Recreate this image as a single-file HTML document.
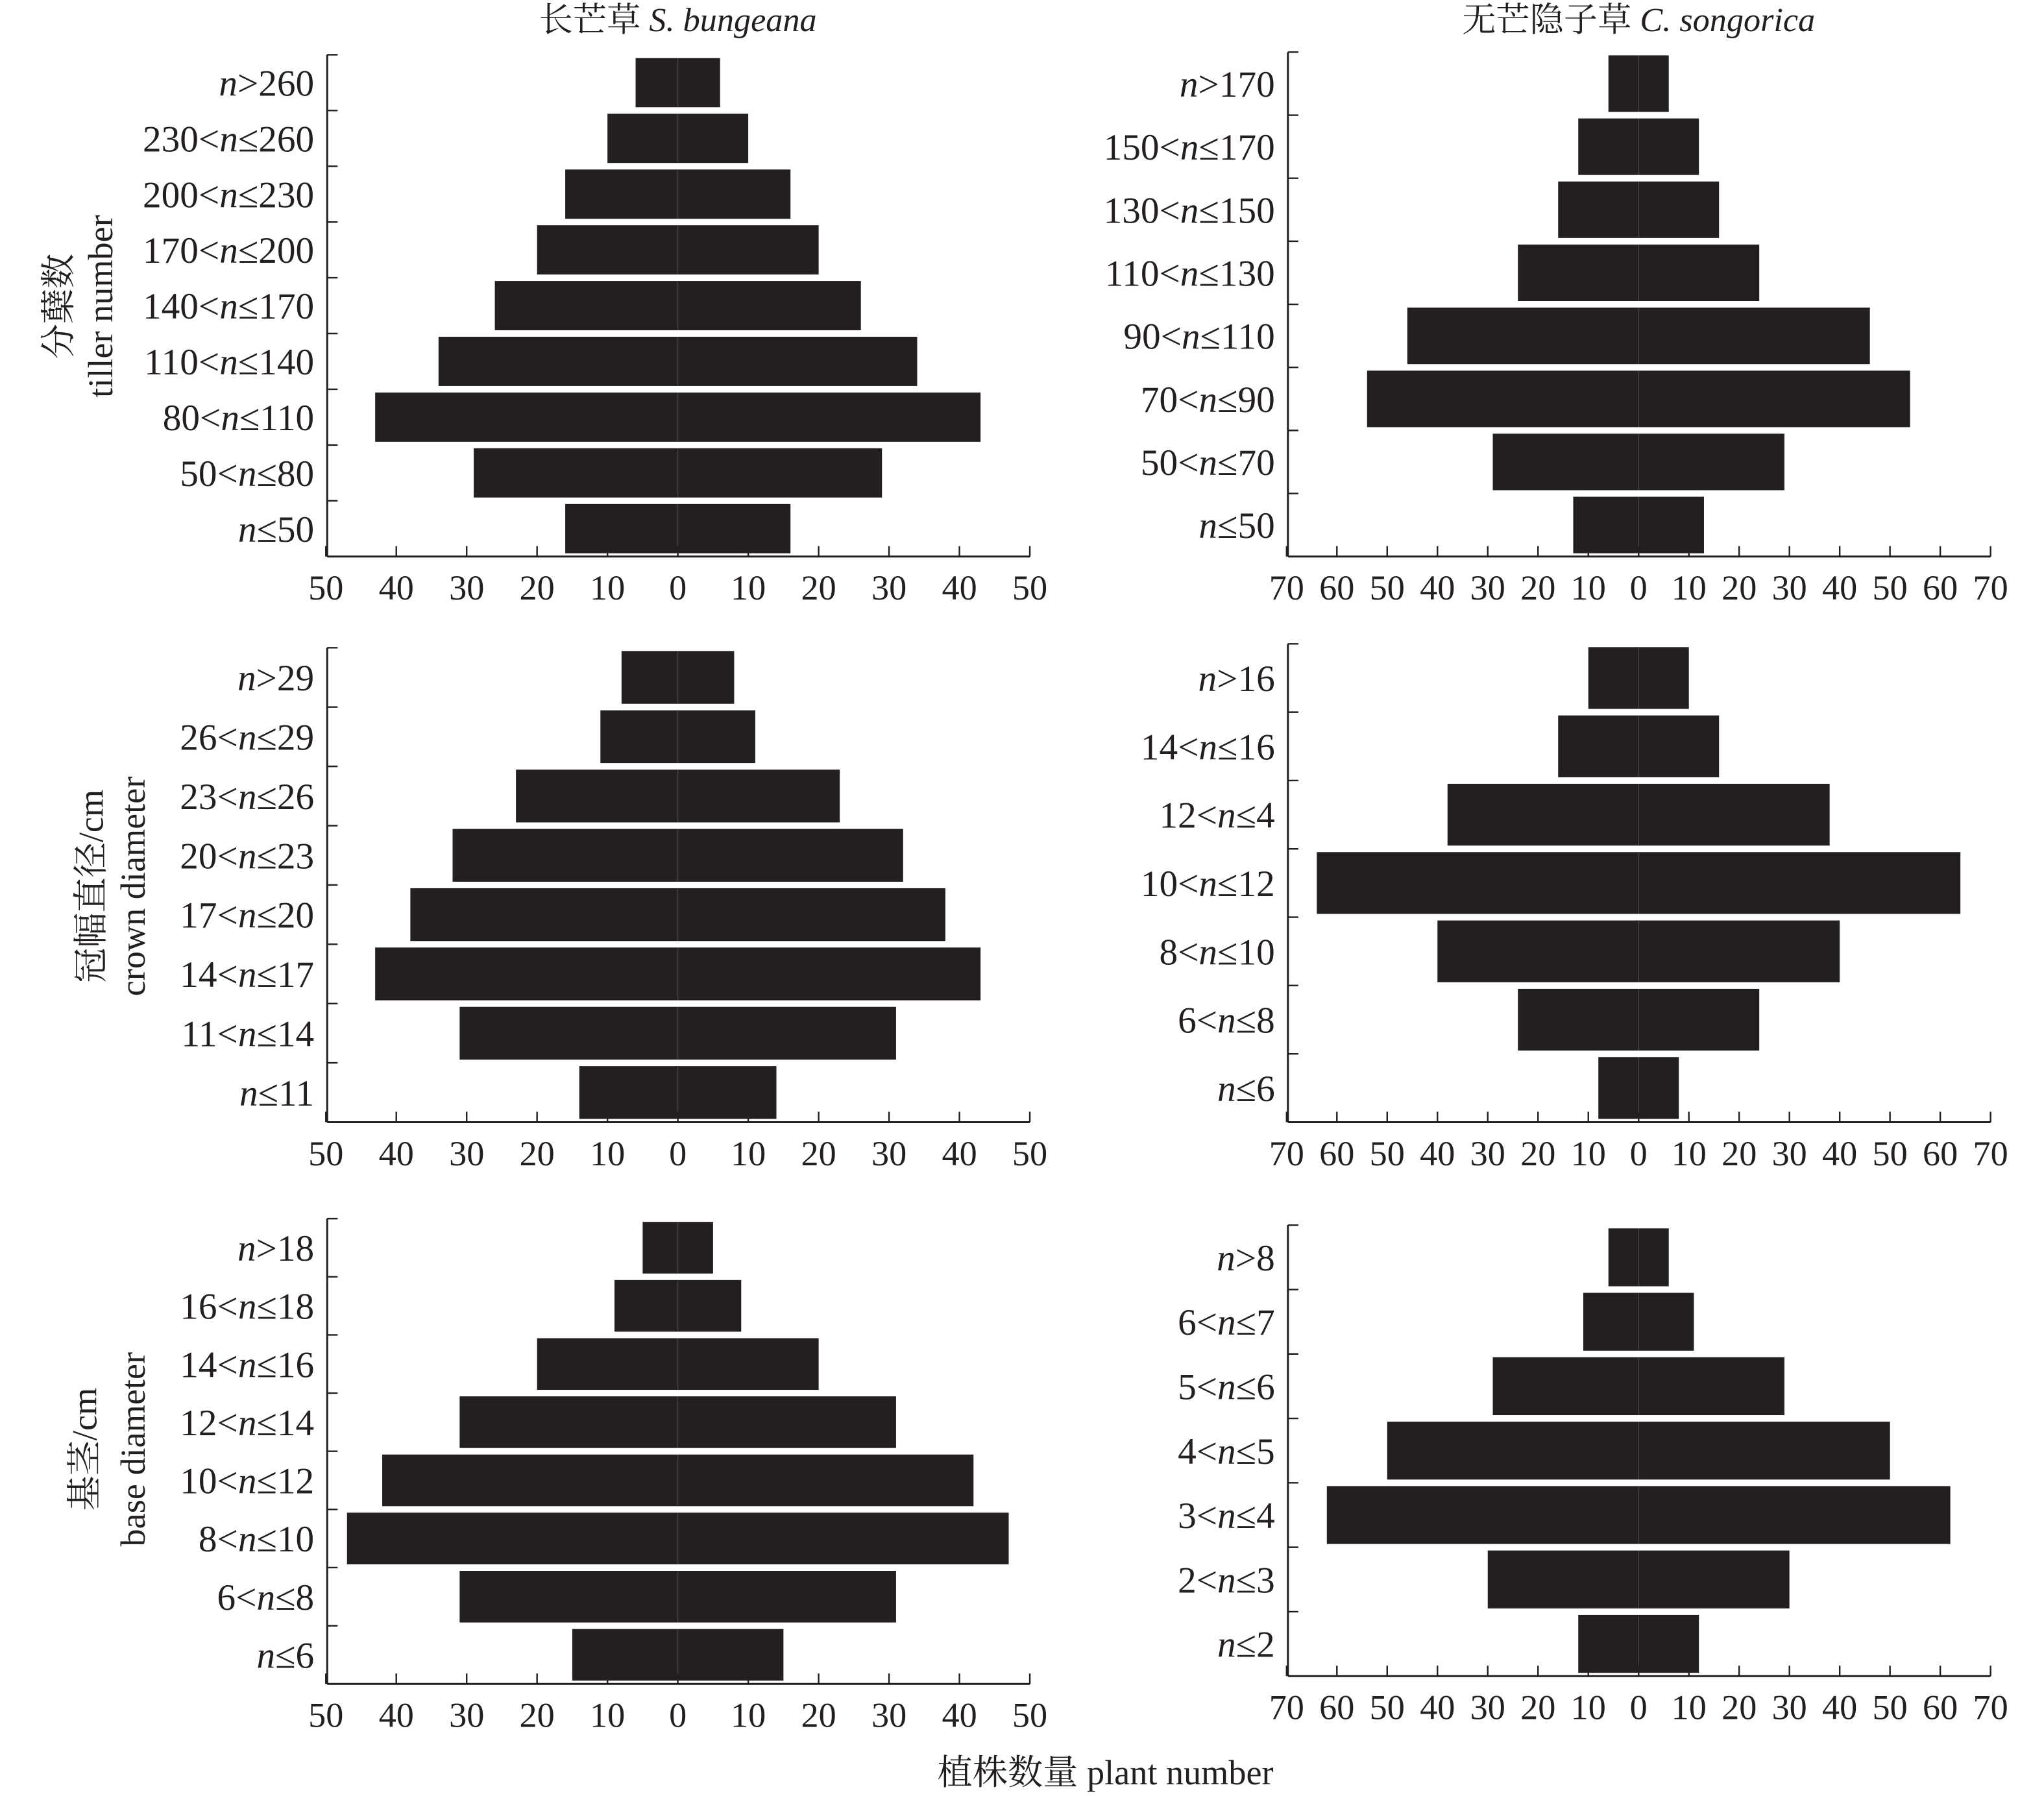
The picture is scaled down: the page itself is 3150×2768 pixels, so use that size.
<!DOCTYPE html>
<html><head><meta charset="utf-8"><style>
html,body{margin:0;padding:0;background:#fff}
svg{display:block}
text{font-family:"Liberation Serif","Noto Serif CJK SC",serif;fill:#231f20}
</style></head><body>
<svg id="s" width="3150" height="2768" viewBox="0 0 1568 1378" preserveAspectRatio="none" xmlns="http://www.w3.org/2000/svg">
<text x="520" y="24" font-size="26" text-anchor="middle">长芒草 <tspan font-style="italic">S. bungeana</tspan></text>
<text x="1257" y="24" font-size="26" text-anchor="middle">无芒隐子草 <tspan font-style="italic">C. songorica</tspan></text>
<text x="848" y="1369" font-size="27" text-anchor="middle">植株数量 plant number</text>
<text transform="translate(54,235) rotate(-90)" font-size="27" text-anchor="middle">分蘖数</text>
<text transform="translate(86,235) rotate(-90)" font-size="27" text-anchor="middle">tiller number</text>
<text transform="translate(79,680) rotate(-90)" font-size="27" text-anchor="middle">冠幅直径/cm</text>
<text transform="translate(111,680) rotate(-90)" font-size="27" text-anchor="middle">crown diameter</text>
<text transform="translate(74,1112) rotate(-90)" font-size="27" text-anchor="middle">基茎/cm</text>
<text transform="translate(111,1112) rotate(-90)" font-size="27" text-anchor="middle">base diameter</text>
</svg>
<script>
var NS="http://www.w3.org/2000/svg",S=document.getElementById("s");
function el(t,a,txt){var e=document.createElementNS(NS,t);for(var k in a)e.setAttribute(k,a[k]);if(txt!=null)e.textContent=txt;S.appendChild(e);return e;}
var P=[
{x0:251,x1:790,z:520,m:50,t:42,b:427,c:[["","n",">260",6],["230<","n","≤260",10],["200<","n","≤230",16],["170<","n","≤200",20],["140<","n","≤170",26],["110<","n","≤140",34],["80<","n","≤110",43],["50<","n","≤80",29],["","n","≤50",16]]},
{x0:988,x1:1527,z:1257,m:70,t:40,b:427,c:[["","n",">170",6],["150<","n","≤170",12],["130<","n","≤150",16],["110<","n","≤130",24],["90<","n","≤110",46],["70<","n","≤90",54],["50<","n","≤70",29],["","n","≤50",13]]},
{x0:251,x1:790,z:520,m:50,t:497,b:861,c:[["","n",">29",8],["26<","n","≤29",11],["23<","n","≤26",23],["20<","n","≤23",32],["17<","n","≤20",38],["14<","n","≤17",43],["11<","n","≤14",31],["","n","≤11",14]]},
{x0:988,x1:1527,z:1257,m:70,t:494,b:861,c:[["","n",">16",10],["14<","n","≤16",16],["12<","n","≤4",38],["10<","n","≤12",64],["8<","n","≤10",40],["6<","n","≤8",24],["","n","≤6",8]]},
{x0:251,x1:790,z:520,m:50,t:935,b:1292,c:[["","n",">18",5],["16<","n","≤18",9],["14<","n","≤16",20],["12<","n","≤14",31],["10<","n","≤12",42],["8<","n","≤10",47],["6<","n","≤8",31],["","n","≤6",15]]},
{x0:988,x1:1527,z:1257,m:70,t:940,b:1286,c:[["","n",">8",6],["6<","n","≤7",11],["5<","n","≤6",29],["4<","n","≤5",50],["3<","n","≤4",62],["2<","n","≤3",30],["","n","≤2",12]]}
];
P.forEach(function(p){
 var u=(p.x1-p.z)/p.m,n=p.c.length,h=(p.b-p.t)/n;
 p.c.forEach(function(c,i){
  var y=p.t+i*h,w=c[3]*u;
  el("rect",{x:p.z-w,y:y+2.5,width:2*w,height:h-5,fill:"#231f20"});
  el("line",{x1:p.z,x2:p.z,y1:y+2.5,y2:y+h-2.5,stroke:"#4a4646","stroke-width":0.6});
  var t=el("text",{x:p.x0-10,y:y+h/2+10,"font-size":28.5,"text-anchor":"end"});
  var a=document.createElementNS(NS,"tspan");a.textContent=c[0];t.appendChild(a);
  var b=document.createElementNS(NS,"tspan");b.setAttribute("font-style","italic");b.textContent=c[1];t.appendChild(b);
  var d=document.createElementNS(NS,"tspan");d.textContent=c[2];t.appendChild(d);
  el("line",{x1:p.x0,x2:p.x0+8,y1:y,y2:y,stroke:"#231f20","stroke-width":1.2});
 });
 el("line",{x1:p.x0,x2:p.x0,y1:p.t,y2:p.b,stroke:"#231f20","stroke-width":1.5});
 el("line",{x1:p.x0,x2:p.x1,y1:p.b,y2:p.b,stroke:"#231f20","stroke-width":1.5});
 for(var v=-p.m;v<=p.m;v+=10){
  var x=p.z+v*u;
  el("line",{x1:x,x2:x,y1:p.b,y2:p.b-8,stroke:"#231f20","stroke-width":1.2});
  el("text",{x:x,y:p.b+33,"font-size":27,"text-anchor":"middle"},String(Math.abs(v)));
 }
});
</script>
</body></html>
